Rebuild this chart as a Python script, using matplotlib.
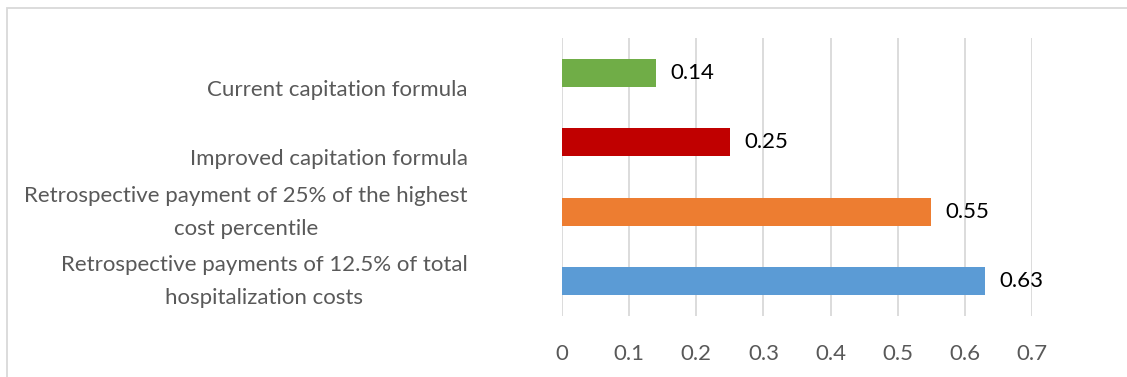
import matplotlib
matplotlib.use("Agg")
import matplotlib.pyplot as plt
import matplotlib.patches as mpatches
from matplotlib.transforms import ScaledTranslation

# Data, bottom to top as drawn
categories = [
    "Retrospective payments of 12.5% of total\nhospitalization costs",
    "Retrospective payment of 25% of the highest\ncost percentile",
    "\nImproved capitation formula",
    "\nCurrent capitation formula",
]
values = [0.63, 0.55, 0.25, 0.14]
colors = ["#5B9BD5", "#ED7D31", "#C00000", "#70AD47"]
xticks = [0, 0.1, 0.2, 0.3, 0.4, 0.5, 0.6, 0.7]

plt.rcParams['font.family'] = ['Lato', 'DejaVu Sans']

W, H = 1127, 377
fig = plt.figure(figsize=(W / 100, H / 100), dpi=100)
ax = fig.add_axes([562 / W, 1 - 316 / H, (1032 - 562) / W, (316 - 38) / H])

pos = list(range(len(values)))
ax.barh(pos, values, height=0.4, color=colors, zorder=3)

for p, v in zip(pos, values):
    ax.text(v + 0.021, p, "%.2f" % v, va='center', ha='left',
            fontsize=16, color='black')

ax.set_xlim(0, 0.7)
ax.set_ylim(-0.5, 3.5)
ax.set_xticks(xticks)
ax.set_xticklabels(["0"] + ["%.1f" % t for t in xticks[1:]])
ax.set_yticks(pos)
ax.set_yticklabels(categories, ha='right', multialignment='center',
                   linespacing=1.8)

ax.tick_params(axis='x', length=0, pad=20, labelsize=16, labelcolor='#595959')
ax.tick_params(axis='y', length=0, pad=68, labelsize=16, labelcolor='#595959')

# nudge category labels up a little, like the original
shift = ScaledTranslation(0, 8 / 100, fig.dpi_scale_trans)
for lbl in ax.get_yticklabels():
    lbl.set_transform(lbl.get_transform() + shift)

ax.grid(axis='x', color='#D9D9D9', linewidth=1.3, zorder=0)
for s in ax.spines.values():
    s.set_visible(False)

# outer chart border (only top and left visible in the crop)
fig.patches.append(mpatches.Rectangle((7 / W, -0.1), 1.2, 1 - 8 / H + 0.1,
                                      transform=fig.transFigure, fill=False,
                                      edgecolor='#D9D9D9', linewidth=1.3))

fig.savefig("out.png", dpi=100)
